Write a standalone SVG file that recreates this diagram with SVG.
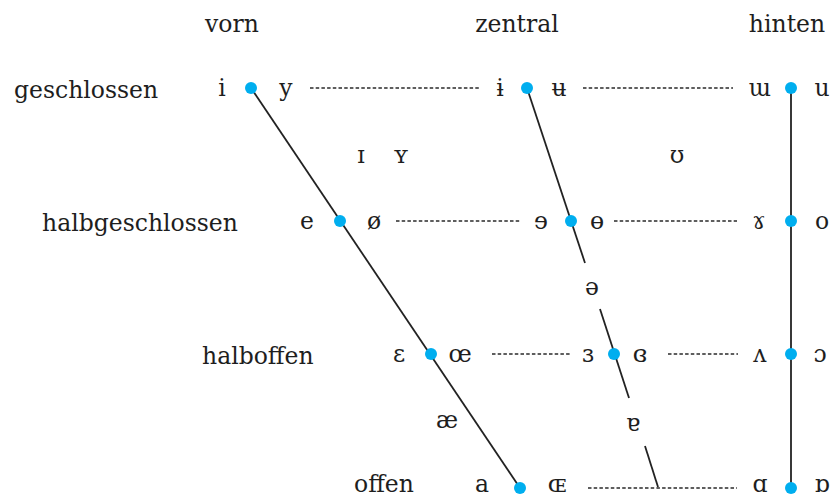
<svg xmlns="http://www.w3.org/2000/svg" width="834" height="498" viewBox="0 0 834 498">
<style>
text{font-family:"DejaVu Serif","Liberation Serif",serif;font-size:23.5px;fill:#1e1e1e}
.v{text-anchor:middle}
.ln{stroke:#222;stroke-width:1.8;fill:none}
.dt{stroke:#2a2a2a;stroke-width:1.3;stroke-dasharray:3.5 2.2;fill:none}
.dot{fill:#00AEEF}
</style>
<rect width="834" height="498" fill="#fff"/>
<g id="headers">
<text class="v" x="232" y="32">vorn</text>
<text class="v" x="517" y="32">zentral</text>
<text class="v" x="787" y="32">hinten</text>
</g>
<g id="row-labels">
<text x="14" y="98">geschlossen</text>
<text x="42" y="231">halbgeschlossen</text>
<text x="202" y="364">halboffen</text>
<text x="354" y="492">offen</text>
</g>
<g id="connectors">
<line class="ln" x1="251" y1="88" x2="520" y2="488"/>
<line class="ln" x1="527" y1="88" x2="585" y2="263"/>
<line class="ln" x1="600" y1="309" x2="629" y2="398"/>
<line class="ln" x1="645" y1="446" x2="658" y2="487"/>
<line class="ln" x1="791" y1="88" x2="791" y2="488"/>
<line class="dt" x1="310" y1="88" x2="481" y2="88"/>
<line class="dt" x1="583" y1="88" x2="733" y2="88"/>
<line class="dt" x1="396" y1="221" x2="520" y2="221"/>
<line class="dt" x1="614" y1="221" x2="737" y2="221"/>
<line class="dt" x1="492" y1="354" x2="570" y2="354"/>
<line class="dt" x1="668" y1="354" x2="738" y2="354"/>
<line class="dt" x1="588" y1="488" x2="737" y2="488"/>
</g>
<g id="row1">
<text class="v" x="222" y="96">i</text>
<circle class="dot" cx="251" cy="88" r="6"/>
<text class="v" x="286" y="96">y</text>
<text class="v" x="500" y="96">ɨ</text>
<circle class="dot" cx="527" cy="88" r="6"/>
<text class="v" x="559" y="96">ʉ</text>
<text class="v" x="760" y="96">ɯ</text>
<circle class="dot" cx="791" cy="88" r="6"/>
<text class="v" x="822" y="96">u</text>
</g>
<g id="near-close">
<text class="v" x="361" y="163">ɪ</text>
<text class="v" x="401" y="163">ʏ</text>
<text class="v" x="677" y="163">ʊ</text>
</g>
<g id="row2">
<text class="v" x="307" y="229">e</text>
<circle class="dot" cx="340" cy="221" r="6"/>
<text class="v" x="374" y="229">ø</text>
<text class="v" x="541" y="229">ɘ</text>
<circle class="dot" cx="571" cy="221" r="6"/>
<text class="v" x="597" y="229">ɵ</text>
<text class="v" x="759" y="229">ɤ</text>
<circle class="dot" cx="791" cy="221" r="6"/>
<text class="v" x="822" y="229">o</text>
</g>
<g id="mid">
<text class="v" x="592" y="295">ə</text>
</g>
<g id="row3">
<text class="v" x="399" y="362">ɛ</text>
<circle class="dot" cx="431" cy="354" r="6"/>
<text class="v" x="460" y="362">œ</text>
<text class="v" x="588" y="362">ɜ</text>
<circle class="dot" cx="614" cy="354" r="6"/>
<text class="v" x="640" y="362">ɞ</text>
<text class="v" x="760" y="362">ʌ</text>
<circle class="dot" cx="791" cy="354" r="6"/>
<text class="v" x="820" y="362">ɔ</text>
</g>
<g id="near-open">
<text class="v" x="447" y="428">æ</text>
<text class="v" x="633" y="431">ɐ</text>
</g>
<g id="row4">
<text class="v" x="482" y="492">a</text>
<circle class="dot" cx="520" cy="488" r="6"/>
<text class="v" x="557" y="492">ɶ</text>
<text class="v" x="760" y="492">ɑ</text>
<circle class="dot" cx="791" cy="488" r="6"/>
<text class="v" x="822" y="492">ɒ</text>
</g>
</svg>
